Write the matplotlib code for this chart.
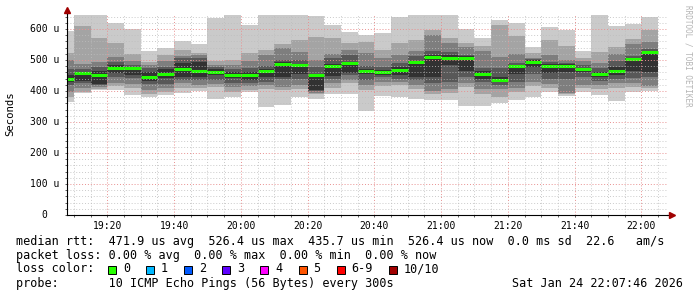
import matplotlib.pyplot as plt
from matplotlib.patches import Rectangle

# end of each 5 minute step (rrd timestamps)
slot_end = ["19:10", "19:15", "19:20", "19:25", "19:30", "19:35", "19:40", "19:45", "19:50",
            "19:55", "20:00", "20:05", "20:10", "20:15", "20:20", "20:25", "20:30", "20:35",
            "20:40", "20:45", "20:50", "20:55", "21:00", "21:05", "21:10", "21:15", "21:20",
            "21:25", "21:30", "21:35", "21:40", "21:45", "21:50", "21:55", "22:00", "22:05"]

# 10 sorted ping rtts per step, in microseconds
pings = [
    [366, 380, 398, 419, 430, 452, 470, 500, 522, 594],
    [395, 398, 409, 425, 432, 462, 470, 487, 610, 645],
    [403, 407, 412, 418, 424, 466, 476, 495, 572, 645],
    [403, 416, 425, 444, 459, 484, 495, 510, 556, 620],
    [388, 409, 424, 441, 452, 478, 484, 498, 520, 600],
    [379, 390, 403, 424, 431, 460, 474, 484, 493, 530],
    [387, 398, 409, 422, 441, 470, 478, 498, 516, 538],
    [395, 409, 425, 435, 445, 490, 508, 512, 532, 561],
    [401, 410, 420, 435, 446, 495, 505, 515, 522, 552],
    [375, 412, 421, 435, 452, 470, 478, 485, 498, 635],
    [380, 398, 412, 427, 441, 460, 470, 485, 500, 645],
    [398, 403, 416, 425, 437, 462, 473, 496, 521, 613],
    [349, 405, 420, 430, 445, 472, 482, 515, 532, 645],
    [355, 403, 414, 438, 444, 492, 500, 540, 553, 645],
    [380, 405, 420, 440, 455, 478, 500, 527, 564, 645],
    [375, 390, 395, 400, 402, 455, 478, 500, 575, 642],
    [390, 410, 425, 440, 447, 488, 505, 520, 570, 613],
    [390, 425, 435, 452, 459, 495, 515, 532, 556, 590],
    [337, 403, 419, 435, 455, 470, 480, 522, 559, 581],
    [385, 415, 428, 445, 452, 468, 478, 508, 532, 588],
    [382, 419, 430, 440, 452, 478, 490, 517, 556, 640],
    [374, 405, 420, 435, 446, 498, 512, 530, 564, 645],
    [370, 390, 400, 425, 445, 515, 530, 581, 597, 645],
    [372, 395, 405, 430, 484, 516, 525, 555, 570, 645],
    [352, 412, 425, 445, 465, 512, 516, 543, 554, 599],
    [352, 390, 405, 430, 440, 465, 475, 530, 545, 572],
    [362, 382, 405, 420, 430, 445, 473, 510, 613, 629],
    [370, 398, 410, 430, 455, 484, 490, 520, 577, 620],
    [382, 415, 430, 455, 478, 500, 503, 508, 522, 543],
    [398, 409, 422, 440, 457, 487, 495, 516, 563, 606],
    [383, 390, 395, 440, 460, 488, 490, 500, 544, 598],
    [398, 410, 419, 445, 462, 475, 485, 497, 507, 528],
    [387, 405, 418, 432, 445, 462, 475, 490, 527, 645],
    [369, 410, 425, 440, 452, 478, 498, 520, 541, 610],
    [398, 412, 425, 441, 465, 505, 513, 552, 567, 616],
    [400, 410, 416, 444, 460, 530, 534, 559, 597, 638],
]

median_rtt = [440, 457, 452, 475, 474, 446, 455, 472, 464, 462, 452, 452, 464, 487, 484, 451,
              480, 490, 464, 462, 469, 495, 510, 505, 505, 455, 435.7, 479, 495, 482, 479, 471,
              455, 464, 502, 526.4]

yticks = [0, 100, 200, 300, 400, 500, 600]
xticks = ["19:20", "19:40", "20:00", "20:20", "20:40", "21:00", "21:20", "21:40", "22:00"]

loss_labels = ["0", "1", "2", "3", "4", "5", "6-9", "10/10"]
loss_colors = ["#26ff00", "#00b8ff", "#0059ff", "#5e00ff", "#ff00ff", "#ff5500", "#ff0000", "#a10000"]

smoke = ["#cacaca", "#a4a4a4", "#7e7e7e", "#585858", "#323232"]
mono = "DejaVu Sans Mono"


def minutes(t):
    h, m = t.split(":")
    return (int(h) - 19) * 60 + int(m)


W, H = 697, 297
fig = plt.figure(figsize=(W / 100, H / 100), dpi=100)
fig.patch.set_facecolor("white")

# 19:07:46 .. 22:07:46
x0 = 7 + 46 / 60
ax = fig.add_axes([66.5 / W, 82 / H, 600.75 / W, 200.9 / H])
ax.set_xlim(x0, x0 + 180)
ax.set_ylim(0, 648)

ends = [minutes(t) for t in slot_end]
lefts = [e - 5 for e in ends]

# smoke: pair outermost pings first, darker towards the middle
for i, col in enumerate(smoke):
    lo = [p[i] for p in pings]
    hi = [p[9 - i] for p in pings]
    ax.bar(lefts, [h - l for h, l in zip(hi, lo)], bottom=lo, width=5, align="edge",
           color=col, linewidth=0, zorder=1)

ax.hlines(median_rtt, lefts, ends, color="#20ff00", linewidth=2.2, zorder=2)

# grid
ax.set_yticks(yticks)
ax.set_yticks(range(0, 641, 20), minor=True)
ax.set_xticks([minutes(t) for t in xticks])
ax.set_xticks(range(10, 188, 5), minor=True)
ax.set_xticklabels(xticks, family=mono, fontsize=7)
ax.set_yticklabels([])
ax.grid(which="minor", color="#bdbdbd", linestyle=(0, (1, 2)), linewidth=0.7, alpha=0.8)
ax.grid(which="major", color="#e89090", linestyle=(0, (1, 2)), linewidth=0.7)
ax.set_axisbelow(False)
ax.tick_params(which="both", length=1.5, width=0.6, color="#444444", pad=3)
ax.tick_params(axis="y", which="both", left=True)

for s in ["top", "right"]:
    ax.spines[s].set_visible(False)
for s in ["left", "bottom"]:
    ax.spines[s].set_color("black")
    ax.spines[s].set_linewidth(0.8)
    ax.spines[s].set_zorder(5)

# axis arrows
ax.plot([0, 0], [1, 1 + 5 / 200.9], transform=ax.transAxes, color="black", lw=0.8, clip_on=False)
ax.plot(0, 1 + 4 / 200.9, marker="^", ms=4, color="#a00000", mec="#a00000",
        transform=ax.transAxes, clip_on=False)
ax.plot([1, 1 + 3 / 600.75], [0, 0], transform=ax.transAxes, color="black", lw=0.8, clip_on=False)
ax.plot(1 + 5 / 600.75, 0, marker=">", ms=4, color="#a00000", mec="#a00000",
        transform=ax.transAxes, clip_on=False)

# y labels, rrdtool style "600 u"
for v in yticks:
    yp = 215 - v * 200.9 / 648
    if v:
        fig.text(59 / W, 1 - yp / H, f"{v} u", ha="right", va="center", family=mono, fontsize=7)
    else:
        fig.text(47 / W, 1 - yp / H, "0", ha="right", va="center", family=mono, fontsize=7)

fig.text(10 / W, 1 - 114 / H, "Seconds", rotation=90, ha="center", va="center",
         family=mono, fontsize=7.7)
fig.text(688 / W, 1 - 5 / H, "RRDTOOL / TOBI OETIKER", rotation=270, ha="center", va="top",
         family=mono, fontsize=5.5, color="#b4b4b4")

# legend block
fs = 8.5
fig.text(16 / W, 1 - 241 / H,
         "median rtt:  471.9 us avg  526.4 us max  435.7 us min  526.4 us now  0.0 ms sd  22.6   am/s",
         va="center", family=mono, fontsize=fs)
fig.text(16 / W, 1 - 255 / H, "packet loss: 0.00 % avg  0.00 % max  0.00 % min  0.00 % now",
         va="center", family=mono, fontsize=fs)
fig.text(16 / W, 1 - 269 / H, "loss color:", va="center", family=mono, fontsize=fs)
bx = 108
for lab, col in zip(loss_labels, loss_colors):
    fig.add_artist(Rectangle((bx / W, 1 - 273.5 / H), 8 / W, 8 / H, transform=fig.transFigure,
                             facecolor=col, edgecolor="black", linewidth=0.7))
    fig.text((bx + 15) / W, 1 - 269 / H, lab, va="center", family=mono, fontsize=fs)
    bx = bx + 15 + len(lab) * 7.1 + 16
fig.text(16 / W, 1 - 283.5 / H, "probe:       10 ICMP Echo Pings (56 Bytes) every 300s",
         va="center", family=mono, fontsize=fs)
fig.text(683 / W, 1 - 283.5 / H, "Sat Jan 24 22:07:46 2026", ha="right", va="center",
         family=mono, fontsize=fs)

fig.savefig("out.png", dpi=100, facecolor="white")
